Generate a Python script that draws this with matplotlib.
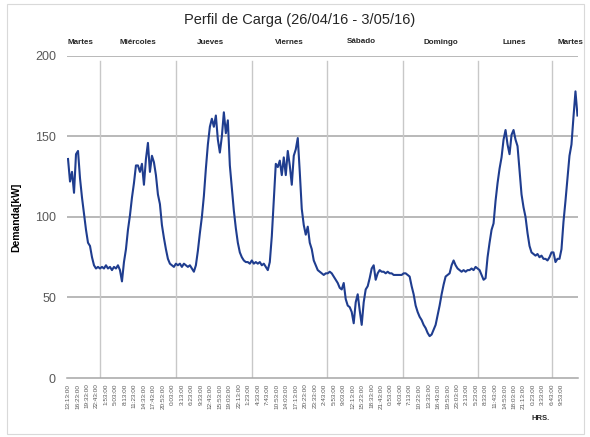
from matplotlib import pyplot as plt
from matplotlib.patches import Rectangle
from matplotlib.transforms import blended_transform_factory

# demand readings, one every 40 minutes starting Tuesday 26/04 13:13
demand_kw = [
    136, 122, 128, 115, 139, 141, 124, 112, 102, 92,
    84, 82, 75, 70, 68, 69, 68, 69, 68, 70,
    68, 69, 67, 69, 68, 70, 67, 60, 72, 80,
    92, 101, 112, 121, 132, 132, 128, 133, 120, 136,
    146, 128, 138, 134, 126, 114, 108, 95, 87, 80,
    74, 71, 70, 69, 71, 70, 71, 69, 71, 70,
    69, 70, 68, 66, 70, 79, 90, 100, 113, 130,
    145, 156, 161, 156, 163, 148, 140, 150, 165, 152,
    160, 132, 118, 104, 93, 84, 78, 75, 73, 72,
    72, 71, 73, 71, 72, 71, 72, 70, 71, 69,
    67, 72, 88, 110, 133, 131, 135, 126, 137, 126,
    141, 132, 120, 138, 142, 149, 128, 105, 95, 89,
    94, 84, 80, 73, 70, 67, 66, 65, 64, 65,
    65, 66, 65, 63, 61, 59, 56, 55, 59, 49,
    45, 44, 41, 34, 47, 52, 42, 33, 47, 55,
    57, 62, 68, 70, 61, 65, 67, 66, 66, 65,
    66, 65, 65, 64, 64, 64, 64, 64, 65, 65,
    64, 63, 57, 52, 45, 41, 38, 36, 33, 31,
    28, 26, 27, 30, 33, 39, 45, 52, 58, 63,
    64, 65, 70, 73, 70, 68, 67, 66, 67, 66,
    67, 67, 68, 67, 69, 68, 67, 64, 61, 62,
    75, 84, 92, 96, 110, 121, 130, 137, 148, 154,
    145, 139, 151, 154, 148, 144, 129, 114, 106, 100,
    90, 82, 78, 77, 76, 77, 75, 76, 74, 74,
    73, 75, 78, 78, 72, 74, 74, 80, 97, 110,
    124, 138, 145, 162, 178, 163,
]

sample_step = 40
label_step = 190

time_labels = [
    "13:13:00", "16:23:00", "19:33:00", "22:43:00", "1:53:00", "5:03:00",
    "8:13:00", "11:23:00", "14:33:00", "17:43:00", "20:53:00", "0:03:00",
    "3:13:00", "6:23:00", "9:33:00", "12:43:00", "15:53:00", "19:03:00",
    "22:13:00", "1:23:00", "4:33:00", "7:43:00", "10:53:00", "14:03:00",
    "17:13:00", "20:23:00", "23:33:00", "2:43:00", "5:53:00", "9:03:00",
    "12:13:00", "15:23:00", "18:33:00", "21:43:00", "0:53:00", "4:03:00",
    "7:13:00", "10:23:00", "13:33:00", "16:43:00", "19:53:00", "23:03:00",
    "2:13:00", "5:23:00", "8:33:00", "11:43:00", "14:53:00", "18:03:00",
    "21:13:00", "0:23:00", "3:33:00", "6:43:00", "9:53:00",
]

day_names = ["Martes", "Miércoles", "Jueves", "Viernes", "Sábado",
             "Domingo", "Lunes", "Martes"]
day_name_pos = [240, 1400, 2860, 4440, 5880, 7460, 8940, 10060]
day_breaks = [640, 2160, 3680, 5180, 6700, 8200, 9700]


def main():
    plt.rcParams['font.family'] = ['Liberation Sans', 'DejaVu Sans']

    minutes = [i * sample_step for i in range(len(demand_kw))]
    tick_pos = [i * label_step for i in range(len(time_labels))]

    figure = plt.figure(figsize=(5.9, 4.37), dpi=100)
    axis = figure.add_axes([0.1136, 0.135, 0.866, 0.737])

    figure.patches.append(Rectangle(
        (0.012, 0.008), 0.978, 0.982,
        transform=figure.transFigure,
        fill=False,
        edgecolor="#d9d9d9",
        linewidth=0.8
    ))

    for y in [50, 100, 150, 200]:
        axis.axhline(y, color="#a6a6a6", linewidth=1.1, zorder=1)

    for x in day_breaks:
        axis.axvline(x, ymax=0.985, color="#c8c8c8", linewidth=1.0, zorder=1)

    axis.plot(minutes, demand_kw, color="#1f3d8f", linewidth=1.5, zorder=3)

    axis.set_xlim(-20, 10210)
    axis.set_ylim(0, 200)

    axis.set_yticks([0, 50, 100, 150, 200])
    axis.tick_params(axis="y", length=0, pad=8, labelsize=9,
                     labelcolor="#595959")

    axis.set_xticks(tick_pos)
    axis.set_xticklabels(time_labels, rotation=90, fontsize=4.6,
                         color="#595959")
    axis.tick_params(axis="x", length=0, pad=4)

    for side in ["top", "right", "left"]:
        axis.spines[side].set_visible(False)
    axis.spines["bottom"].set_color("#a6a6a6")
    axis.spines["bottom"].set_linewidth(1.1)

    axis.set_ylabel("Demanda[kW]", fontsize=7.5, fontweight="bold",
                    labelpad=10)

    top = blended_transform_factory(axis.transData, axis.transAxes)
    for name, x in zip(day_names, day_name_pos):
        y = 1.035 if name == "Sábado" else 1.03
        axis.text(x, y, name, transform=top, ha="center", va="bottom",
                  fontsize=5.8, fontweight="bold", color="#262626")

    figure.text(0.508, 0.954, "Perfil de Carga (26/04/16 - 3/05/16)",
                ha="center", va="center", fontsize=10.5, color="#262626")
    figure.text(0.917, 0.043, "HRS.", ha="center", va="center",
                fontsize=5.5, fontweight="bold", color="#262626")

    figure.savefig("out.png", dpi=100)


if __name__ == '__main__':
    main()
